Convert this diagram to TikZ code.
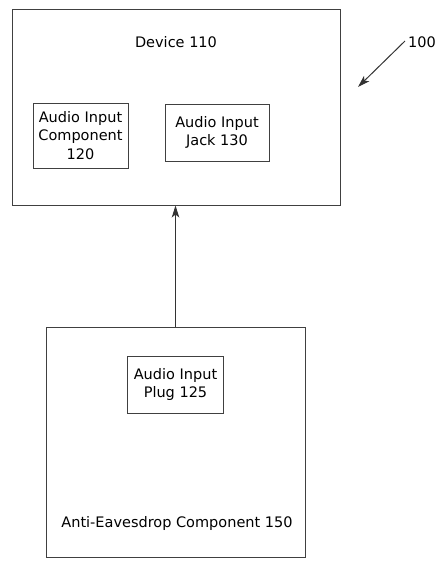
\documentclass[tikz,border=0pt]{standalone}
\usepackage{fontspec}
\setmainfont{DejaVu Sans}
\usepackage{xcolor}
\usetikzlibrary{arrows.meta, positioning}

\tikzset{
    unitbox/.style={draw=black!75, line width=1pt, inner sep=0pt},
    partbox/.style={draw=black!75, line width=1pt, align=center, inner sep=0pt},
    boxlabel/.style={font=\fontsize{14.5}{18.5}\selectfont},
    link/.style={-{Stealth[length=12pt, width=7.5pt, inset=3pt]}, draw=black!80, line width=1pt}
}

\begin{document}
\begin{tikzpicture}[x=1pt, y=-1pt]

    \useasboundingbox (0, 0) rectangle (445, 562);

    % Device
    \node[unitbox, minimum width=328, minimum height=196] (device) at (176, 107) {};
    \node[boxlabel] (devicelabel) at (176, 42) {Device 110};

    \node[partbox, boxlabel, minimum width=95, minimum height=65] (component) at (80.5, 135.5)
        {Audio Input\\Component\\120};
    \node[partbox, boxlabel, minimum width=104, minimum height=57] (jack) at (217, 132.5)
        {Audio Input\\Jack 130};

    % Anti-eavesdrop component
    \node[unitbox, minimum width=259, minimum height=230] (anti) at (175.5, 442) {};
    \node[boxlabel] (antilabel) at (177, 523) {Anti-Eavesdrop Component 150};

    \node[partbox, boxlabel, minimum width=96, minimum height=57] (plug) at (175.5, 384.5)
        {Audio Input\\Plug 125};

    % Plug into jack
    \draw[link] (anti.north) -- (anti.north |- device.south);

    % Reference numeral
    \node[boxlabel] (ref) at (422, 42) {100};
    \coordinate (reftail) at (405, 41);
    \coordinate (reftip) at (358, 87);
    \draw[link] (reftail) -- (reftip);

\end{tikzpicture}
\end{document}
